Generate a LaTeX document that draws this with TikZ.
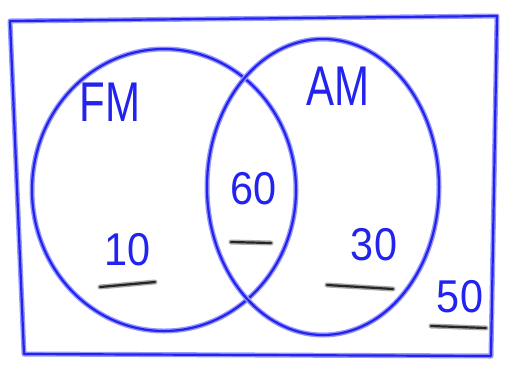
\documentclass[tikz,border=0pt]{standalone}
\usepackage{fontspec}
\setmainfont{Liberation Sans}
\definecolor{penblue}{RGB}{35,35,240}
\definecolor{halo}{RGB}{150,150,255}
\definecolor{halogray}{RGB}{170,170,170}
\tikzset{
  pen/.style={draw=penblue, line width=2.2pt, line cap=round, line join=round,
    preaction={draw=halo, line width=5pt, line cap=round, line join=round}},
  uline/.style={draw=black!85, line width=2.2pt, line cap=round,
    preaction={draw=halogray, line width=5pt, line cap=round}},
  lbl/.style={text=penblue, inner sep=0pt, font=\fontsize{46}{46}\selectfont, xscale=0.9},
  biglbl/.style={text=penblue, inner sep=0pt, font=\fontsize{56}{56}\selectfont, xscale=0.75},
}
\begin{document}
\begin{tikzpicture}[x=1pt,y=-1pt]
\useasboundingbox (0,0) rectangle (505,365);
% outer frame
\coordinate (tl) at (10,21);
\coordinate (tr) at (497,16);
\coordinate (br) at (491,356);
\coordinate (bl) at (24,354);
\draw[pen] (tl) -- (tr) -- (br) -- (bl) -- (tl);
% circles
\draw[pen] (164,190) ellipse [x radius=132, y radius=141];
\draw[pen] (323,187) ellipse [x radius=116, y radius=148];
% labels
\node[biglbl] (fm) at (110,102) {FM};
\node[biglbl] (am) at (338,86) {AM};
\node[lbl] (n60) at (254,189) {60};
\node[lbl] (n10) at (128,250) {10};
\node[lbl] (n30) at (374,245) {30};
\node[lbl] (n50) at (460,297) {50};
% underlines
\coordinate (a1) at (231,242); \coordinate (a2) at (271,243);
\coordinate (b1) at (100,287); \coordinate (b2) at (155,282);
\coordinate (c1) at (327,285); \coordinate (c2) at (393,289);
\coordinate (d1) at (431,326); \coordinate (d2) at (486,328);
\draw[uline] (a1) -- (a2);
\draw[uline] (b1) -- (b2);
\draw[uline] (c1) -- (c2);
\draw[uline] (d1) -- (d2);
\end{tikzpicture}
\end{document}
